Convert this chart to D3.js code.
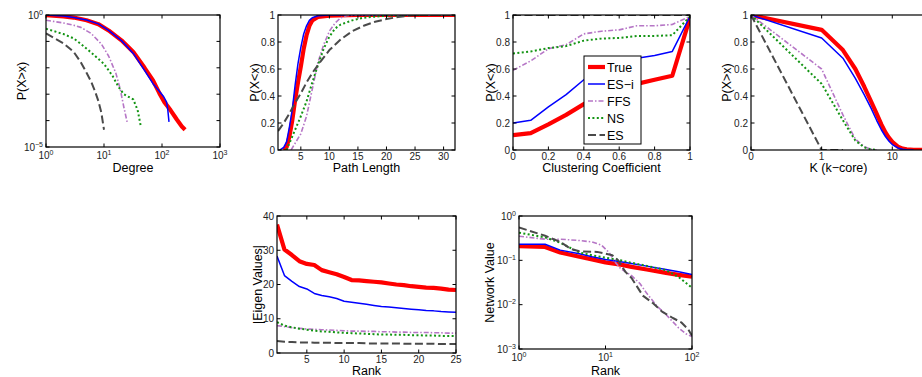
<!DOCTYPE html>
<html>
<head>
<meta charset="utf-8">
<script src="https://cdn.jsdelivr.net/npm/d3@7"></script>
<style>
  body { margin: 0; background: #fff; }
  svg { font-family: 'Liberation Sans', Arial, Helvetica, sans-serif; }
</style>
</head>
<body>
<svg id="chart" width="922" height="377"></svg>
<script>
// series, in plot order
const seriesNames = ['True', 'ES\u2212i', 'FFS', 'NS', 'ES']

// degree distribution [degree, P(X>x)]
const trueDegree = [[1,0.98],[2,0.89],[3,0.8],[5,0.63],[8,0.45],[12,0.26],[20,0.11],[32,0.04],[50,0.01],[70,0.0033],[90,0.0011],[110,5e-4],[140,2.5e-4],[180,1.1e-4],[220,6e-5],[250,4.5e-5]]
const esiDegree = [[1,1],[2,0.91],[3,0.81],[5,0.65],[8,0.46],[12,0.26],[20,0.107],[32,0.035],[50,0.008],[70,0.0025],[90,0.0013],[107,8e-4],[120,5e-4],[126,2.5e-4],[132,9e-5]]
const ffsDegree = [[1,0.63],[2,0.5],[3,0.41],[4,0.34],[6,0.2],[9,0.08],[12,0.028],[16,0.0063],[19,0.0016],[22,3.2e-4],[25,9e-5]]
const nsDegree = [[1,0.3],[2,0.19],[3,0.13],[4,0.08],[6,0.038],[10,0.014],[14,0.005],[18,0.0018],[22,0.001],[32,6.3e-4],[38,2.5e-4],[43,6.3e-5]]
const esDegree = [[1,0.2],[2,0.085],[3,0.04],[4,0.016],[5,0.0065],[6,0.003],[7,0.0013],[8,5.5e-4],[9,2e-4],[10,4.5e-5]]

// path length [length, P(X<x)]
const truePath = [[2,0],[2.5,0.02],[3,0.1],[3.5,0.22],[4,0.37],[4.5,0.5],[5,0.62],[5.5,0.75],[6,0.85],[6.5,0.92],[7,0.96],[8,0.985],[10,0.995],[15,1],[32,1]]
const esiPath = [[1.3,0],[2,0.02],[2.5,0.06],[3,0.17],[3.5,0.3],[4,0.48],[4.5,0.64],[5,0.76],[5.5,0.86],[6,0.92],[6.5,0.96],[7,0.98],[8,0.995],[10,1],[32,1]]
const ffsPath = [[3.3,0],[4,0.05],[5,0.12],[6,0.25],[7,0.45],[7.5,0.55],[8,0.65],[9,0.78],[10,0.88],[11,0.94],[12,0.98],[13,0.995],[15,1],[32,1]]
const nsPath = [[2.5,0],[3,0.05],[4,0.15],[5,0.25],[6,0.36],[7,0.5],[8,0.63],[9,0.75],[10,0.84],[11,0.9],[12,0.93],[14,0.96],[16,0.98],[20,0.995],[25,1],[32,1]]
const esPath = [[1,0.14],[2,0.2],[3,0.27],[4,0.35],[5,0.42],[6,0.5],[7,0.57],[8,0.63],[10,0.74],[12,0.82],[14,0.88],[16,0.92],[18,0.95],[20,0.97],[22,0.985],[25,1],[32,1]]

// clustering coefficient, P(X<x) at each bin
const ccBins = [0, 0.1, 0.2, 0.3, 0.4, 0.5, 0.6, 0.7, 0.8, 0.9, 1]
const trueCC = [0.11, 0.125, 0.19, 0.26, 0.34, 0.41, 0.46, 0.49, 0.52, 0.55, 0.98]
const esiCC = [0.2, 0.22, 0.32, 0.41, 0.52, 0.6, 0.65, 0.68, 0.7, 0.73, 0.99]
const ffsCC = [0.59, 0.66, 0.75, 0.78, 0.86, 0.88, 0.89, 0.92, 0.92, 0.93, 0.99]
const nsCC = [0.715, 0.73, 0.755, 0.77, 0.81, 0.825, 0.83, 0.845, 0.845, 0.85, 0.99]
const esCC = [1, 1, 1, 1, 1, 1, 1, 1, 1, 1, 1]

// k-core [k, P(X>x)]
const trueK = [[0,1],[1,0.89],[2,0.74],[3,0.6],[4,0.47],[5,0.36],[6,0.27],[7,0.19],[8,0.13],[9,0.09],[10,0.06],[12,0.025],[14,0.01],[16,0.005],[20,0.002],[30,0]]
const esiK = [[0,1],[1,0.83],[2,0.68],[3,0.53],[4,0.41],[5,0.31],[6,0.22],[7,0.15],[8,0.1],[9,0.065],[10,0.04],[12,0.015],[14,0.005],[16,0.001],[20,0]]
const ffsK = [[0,1],[1,0.6],[2,0.26],[3,0.08],[4,0.025],[5,0.005],[6,0]]
const nsK = [[0,1],[1,0.49],[2,0.22],[3,0.07],[4,0.02],[5,0.005],[6,0]]
const esK = [[0,1],[1,0],[2,0]]

// top 25 eigenvalues by rank
const trueEigen = [37.5, 30.2, 28.6, 26.8, 26.0, 25.7, 24.2, 23.6, 23.0, 22.2, 21.3, 21.2, 21.0, 20.8, 20.6, 20.3, 20.0, 19.8, 19.5, 19.3, 19.1, 19.0, 18.8, 18.5, 18.4]
const esiEigen = [28.3, 22.6, 20.9, 19.4, 18.7, 17.4, 16.8, 16.4, 15.9, 15.1, 14.8, 14.5, 14.2, 13.9, 13.6, 13.4, 13.2, 13.0, 12.8, 12.6, 12.4, 12.3, 12.1, 12.0, 11.9]
const ffsEigen = [8.0, 7.7, 7.4, 7.2, 7.0, 6.9, 6.8, 6.7, 6.6, 6.5, 6.4, 6.4, 6.3, 6.3, 6.2, 6.2, 6.1, 6.1, 6.0, 6.0, 6.0, 5.9, 5.9, 5.8, 5.8]
const nsEigen = [9.0, 8.0, 7.5, 7.1, 6.8, 6.5, 6.3, 6.2, 6.0, 5.9, 5.8, 5.7, 5.6, 5.5, 5.4, 5.4, 5.3, 5.3, 5.2, 5.2, 5.1, 5.1, 5.0, 5.0, 5.0]
const esEigen = [3.5, 3.3, 3.2, 3.1, 3.1, 3.0, 3.0, 3.0, 2.9, 2.9, 2.9, 2.9, 2.8, 2.8, 2.8, 2.8, 2.8, 2.7, 2.7, 2.7, 2.7, 2.7, 2.6, 2.6, 2.6]

// network value [rank, value]
const trueNet = [[1,0.21],[2,0.2],[3,0.15],[5,0.12],[7,0.105],[10,0.09],[15,0.08],[20,0.071],[30,0.062],[50,0.052],[70,0.047],[100,0.043]]
const esiNet = [[1,0.23],[2,0.23],[3,0.17],[5,0.14],[7,0.12],[10,0.105],[15,0.093],[20,0.085],[30,0.074],[50,0.062],[70,0.055],[100,0.048]]
const ffsNet = [[1,0.35],[2,0.3],[3,0.3],[5,0.28],[7,0.26],[9,0.22],[11,0.15],[13,0.09],[15,0.065],[20,0.045],[25,0.03],[30,0.018],[40,0.009],[50,0.006],[70,0.003],[85,0.0022],[100,0.0019]]
const nsNet = [[1,0.42],[2,0.33],[3,0.25],[5,0.15],[7,0.13],[10,0.115],[15,0.1],[20,0.088],[30,0.075],[50,0.06],[70,0.042],[100,0.024]]
const esNet = [[1,0.55],[2,0.36],[3,0.26],[4,0.18],[5,0.16],[8,0.155],[12,0.13],[14,0.1],[17,0.055],[20,0.04],[27,0.016],[35,0.011],[45,0.007],[60,0.005],[75,0.004],[90,0.0028],[100,0.002]]

// tick values
const probTicks = [0, 0.2, 0.4, 0.6, 0.8, 1]
const pathTicks = [5, 10, 15, 20, 25, 30]
const kTicks = [0.1, 1, 10]
const kTickLabels = ['0', '1', '10']
const rankTicks = [5, 10, 15, 20, 25]
const eigenTicks = [0, 10, 20, 30, 40]

const styles = [
  {color: '#ff0000', width: 4.2, dash: null},
  {color: '#0000ff', width: 1.5, dash: null},
  {color: '#b676c6', width: 1.6, dash: '5,2,1.5,2'},
  {color: '#139413', width: 2, dash: '2,2.4'},
  {color: '#4a4a4a', width: 2, dash: '8,3.5'}
]

const svg = d3.select('#chart')
const ranks = trueEigen.map((d, i) => i + 1)
const zip = (xs, ys) => xs.map((v, i) => [v, ys[i]])

const decade = (sel, v) => {
  const e = Math.round(Math.log10(v))
  sel.text('10')
  sel.append('tspan')
    .attr('dy', -4)
    .attr('font-size', 7)
    .text(e < 0 ? '\u2212' + (-e) : e)
}

let clipCount = 0

const drawPanel = (p) => {
  p.x.range([p.left, p.right])
  p.y.range([p.bottom, p.top])
  const g = svg.append('g')
  const clipId = 'clip' + (clipCount++)
  g.append('clipPath').attr('id', clipId)
    .append('rect')
      .attr('x', p.left).attr('y', p.top)
      .attr('width', p.right - p.left).attr('height', p.bottom - p.top)

  const line = d3.line()
    .x(d => p.x(p.xMap ? p.xMap(d[0]) : d[0]))
    .y(d => p.y(d[1]))

  g.append('g').attr('clip-path', `url(#${clipId})`)
    .selectAll('path')
    .data(p.series)
    .enter()
    .append('path')
      .attr('d', line)
      .style('fill', 'none')
      .style('stroke', (d, i) => styles[i].color)
      .style('stroke-width', (d, i) => styles[i].width)
      .style('stroke-dasharray', (d, i) => styles[i].dash)
      .style('stroke-linejoin', 'round')

  // box
  g.append('rect')
    .attr('x', p.left).attr('y', p.top)
    .attr('width', p.right - p.left).attr('height', p.bottom - p.top)
    .style('fill', 'none')
    .style('stroke', '#000')
    .style('stroke-width', 1.2)

  const tickLen = 3.5
  const xt = g.selectAll('.xtick').data(p.xTicks).enter().append('g')
  xt.append('line')
    .attr('x1', d => p.x(d)).attr('x2', d => p.x(d))
    .attr('y1', p.bottom).attr('y2', p.bottom - tickLen)
    .style('stroke', '#000')
  xt.append('line')
    .attr('x1', d => p.x(d)).attr('x2', d => p.x(d))
    .attr('y1', p.top).attr('y2', p.top + tickLen)
    .style('stroke', '#000')
  xt.append('text')
    .attr('x', d => p.x(d))
    .attr('y', p.bottom + (p.xLog ? 11.5 : 10))
    .attr('text-anchor', 'middle')
    .attr('font-size', 10)
    .attr('fill', '#222')
    .each(function (d) {
      const t = d3.select(this)
      if (p.xLog) decade(t, d)
      else t.text(p.xLabels ? p.xLabels[p.xTicks.indexOf(d)] : String(d))
    })

  const yt = g.selectAll('.ytick').data(p.yTicks).enter().append('g')
  yt.append('line')
    .attr('y1', d => p.y(d)).attr('y2', d => p.y(d))
    .attr('x1', p.left).attr('x2', p.left + tickLen)
    .style('stroke', '#000')
  yt.append('line')
    .attr('y1', d => p.y(d)).attr('y2', d => p.y(d))
    .attr('x1', p.right).attr('x2', p.right - tickLen)
    .style('stroke', '#000')
  yt.filter(d => !p.yLabelOnly || p.yLabelOnly.includes(d))
    .append('text')
      .attr('x', p.left - 3)
      .attr('y', d => p.y(d) + 3.5)
      .attr('text-anchor', 'end')
      .attr('font-size', 10)
      .attr('fill', '#222')
      .each(function (d) {
        const t = d3.select(this)
        if (p.yLog) decade(t, d)
        else t.text(String(d))
      })

  g.append('text')
    .attr('x', (p.left + p.right) / 2)
    .attr('y', p.xTitleY)
    .attr('text-anchor', 'middle')
    .attr('font-size', 12.5)
    .text(p.xTitle)

  g.append('text')
    .attr('transform', `translate(${p.yTitleX},${(p.top + p.bottom) / 2}) rotate(-90)`)
    .attr('text-anchor', 'middle')
    .attr('font-size', 12.5)
    .text(p.yTitle)
}

drawPanel({
  left: 46, right: 220, top: 15, bottom: 147,
  x: d3.scaleLog().domain([1, 1000]), y: d3.scaleLog().domain([1e-5, 1]),
  xLog: true, yLog: true,
  xTicks: [1, 10, 100, 1000], yTicks: [1e-5, 1e-4, 1e-3, 1e-2, 1e-1, 1], yLabelOnly: [1e-5, 1],
  series: [trueDegree, esiDegree, ffsDegree, nsDegree, esDegree],
  xTitle: 'Degree', xTitleY: 172, yTitle: 'P(X>x)', yTitleX: 26
})

drawPanel({
  left: 278, right: 455, top: 15, bottom: 150,
  x: d3.scaleLinear().domain([1, 32]), y: d3.scaleLinear().domain([0, 1]),
  xTicks: pathTicks, yTicks: probTicks,
  series: [truePath, esiPath, ffsPath, nsPath, esPath],
  xTitle: 'Path Length', xTitleY: 172, yTitle: 'P(X<x)', yTitleX: 259
})

drawPanel({
  left: 513, right: 690, top: 15, bottom: 150,
  x: d3.scaleLinear().domain([0, 1]), y: d3.scaleLinear().domain([0, 1]),
  xTicks: probTicks, yTicks: probTicks,
  series: [trueCC, esiCC, ffsCC, nsCC, esCC].map(s => zip(ccBins, s)),
  xTitle: 'Clustering Coefficient', xTitleY: 172, yTitle: 'P(X<x)', yTitleX: 495
})

drawPanel({
  left: 751, right: 926, top: 15, bottom: 150,
  x: d3.scaleLog().domain([0.1, 30]), y: d3.scaleLinear().domain([0, 1]),
  xMap: k => Math.max(k, 0.1),
  xTicks: kTicks, xLabels: kTickLabels, yTicks: probTicks,
  series: [trueK, esiK, ffsK, nsK, esK],
  xTitle: 'K (k\u2212core)', xTitleY: 172, yTitle: 'P(X>x)', yTitleX: 731
})

drawPanel({
  left: 277, right: 456, top: 216, bottom: 353,
  x: d3.scaleLinear().domain([1, 25]), y: d3.scaleLinear().domain([0, 40]),
  xTicks: rankTicks, yTicks: eigenTicks,
  series: [trueEigen, esiEigen, ffsEigen, nsEigen, esEigen].map(s => zip(ranks, s)),
  xTitle: 'Rank', xTitleY: 375, yTitle: '|Eigen Values|', yTitleX: 262
})

drawPanel({
  left: 519, right: 692, top: 216, bottom: 349,
  x: d3.scaleLog().domain([1, 100]), y: d3.scaleLog().domain([1e-3, 1]),
  xLog: true, yLog: true,
  xTicks: [1, 10, 100], yTicks: [1e-3, 1e-2, 1e-1, 1],
  series: [trueNet, esiNet, ffsNet, nsNet, esNet],
  xTitle: 'Rank', xTitleY: 375, yTitle: 'Network Value', yTitleX: 494
})

// legend inside the clustering panel
const legend = svg.append('g').attr('transform', 'translate(584,56)')
legend.append('rect')
  .attr('width', 57).attr('height', 88)
  .style('fill', '#fff')
  .style('stroke', '#000')
  .style('stroke-width', 1)
const legendRows = legend.selectAll('.row')
  .data(seriesNames)
  .enter()
  .append('g')
    .attr('transform', (d, i) => `translate(0,${11 + i * 17})`)
legendRows.append('line')
  .attr('x1', 4).attr('x2', 21)
  .style('stroke', (d, i) => styles[i].color)
  .style('stroke-width', (d, i) => styles[i].width)
  .style('stroke-dasharray', (d, i) => styles[i].dash)
legendRows.append('text')
  .attr('x', 23).attr('y', 4.5)
  .attr('font-size', 12.5)
  .text(d => d)
</script>
</body>
</html>
